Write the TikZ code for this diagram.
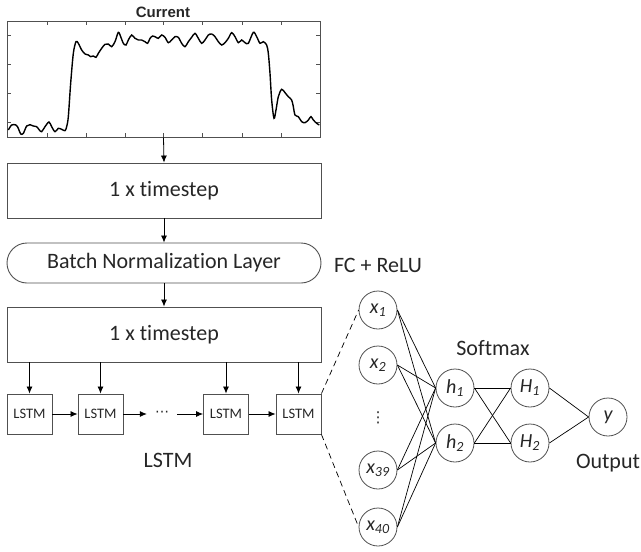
\documentclass[tikz,border=0pt]{standalone}
\usepackage{fontspec}
\setmainfont[Ligatures=NoCommon]{Carlito}
\newfontfamily\arialf{Liberation Sans}
\newfontfamily\djv{DejaVu Sans}
\usetikzlibrary{arrows.meta,shapes.misc}
\definecolor{ln}{HTML}{505050}
\definecolor{tx}{HTML}{262626}
\begin{document}
\begin{tikzpicture}[x=1pt,y=-1pt,
  every node/.style={text=tx},
  box/.style={draw=ln,line width=0.9pt,inner sep=0,minimum width=314,minimum height=55,font=\fontsize{22}{26}\selectfont},
  pill/.style={draw=ln,line width=0.9pt,rounded rectangle,inner sep=0,minimum width=314,minimum height=40,font=\fontsize{22}{26}\selectfont},
  cell/.style={draw=ln,line width=0.9pt,inner sep=0,minimum width=45,minimum height=40,font=\fontsize{14.5}{17}\selectfont},
  neuron/.style={draw=ln,line width=0.8pt,circle,inner sep=0,minimum size=38,font=\fontsize{20}{24}\selectfont\itshape},
  lbl/.style={font=\fontsize{22}{26}\selectfont},
  arr/.style={-{Latex[length=7pt,width=6pt]},line width=0.8pt,black},
  wire/.style={line width=0.7pt,black},
  tick/.style={line width=0.8pt,ln}]
\useasboundingbox (0,0) rectangle (641,552);
% plot
\node[draw=ln,line width=1pt,inner sep=0,minimum width=313,minimum height=116] (chart) at (163.5,79) {};
\node[font=\arialf\bfseries\fontsize{15}{18}\selectfont] (title) at (163,12) {Current};
\foreach \x in {47,86,125,163,202,242,281} {
  \draw[tick] (\x,21) -- (\x,25);
  \draw[tick] (\x,137) -- (\x,133);
}
\foreach \y in {35,64,93,122} {
  \draw[tick] (7,\y) -- (11,\y);
  \draw[tick] (320,\y) -- (316,\y);
}
\begin{scope}[scale=1/3]
\draw[line width=1.4pt,black] plot[smooth,tension=0.5] coordinates {
(25,390)(35,375)(48,375)(55,385)(62,402)(70,400)(80,378)(90,374)(100,378)(110,380)(118,390)(125,395)(135,380)(147,366)(155,380)(165,395)(175,385)(185,388)(195,392)(200,380)(205,350)(212,250)(220,160)(228,125)(235,130)(245,150)(255,162)(265,165)(272,170)(280,168)(288,172)(295,160)(305,145)(315,133)(325,132)(335,140)(345,125)(355,97)(362,110)(370,130)(378,135)(385,120)(395,105)(405,115)(415,120)(425,120)(435,125)(443,130)(450,115)(458,108)(465,110)(475,115)(485,105)(495,112)(505,128)(515,120)(525,110)(535,112)(545,130)(555,140)(565,125)(575,112)(585,100)(595,115)(605,130)(615,120)(625,105)(635,102)(645,110)(655,125)(665,135)(675,128)(685,115)(695,98)(705,110)(715,128)(725,120)(735,128)(745,130)(760,97)(770,110)(780,130)(790,125)(800,135)(805,160)(810,220)(815,300)(822,355)(828,330)(835,290)(845,268)(855,278)(865,290)(875,300)(880,320)(885,345)(895,350)(905,365)(915,368)(925,360)(933,350)(940,360)(950,370)(958,375)};
\end{scope}
% left column
\node[box] (ts1) at (164,190.5) {1 x timestep};
\node[pill] (bn) at (164,263) {Batch Normalization Layer};
\node[box] (ts2) at (164,334.5) {1 x timestep};
\draw[arr] (chart.south) -- (ts1.north);
\draw[arr] (ts1.south) -- (bn.north);
\draw[arr] (bn.south) -- (ts2.north);
\node[cell] (l1) at (29.5,414) {LSTM};
\node[cell] (l2) at (100.5,414) {LSTM};
\node[cell] (l3) at (226,414) {LSTM};
\node[cell] (l4) at (298.5,414) {LSTM};
\node[inner sep=0,minimum width=30,minimum height=8,font=\djv\fontsize{14}{16}\selectfont] (dots) at (162,414) {⋯};
\foreach \n in {l1,l2,l3,l4} \draw[arr] (ts2.south -| \n) -- (\n.north);
\draw[arr] (l1.east) -- (l2.west);
\draw[arr] (l2.east) -- (dots.west);
\draw[arr] (dots.east) -- (l3.west);
\draw[arr] (l3.east) -- (l4.west);
\node[lbl] (lstmlbl) at (168,460) {LSTM};
% network
\node[lbl] (fc) at (378,265) {FC + ReLU};
\node[neuron] (x1) at (378,310) {x\textsubscript{1}};
\node[neuron] (x2) at (378,365) {x\textsubscript{2}};
\node[font=\djv\fontsize{15}{17}\selectfont] (vd) at (378,418) {⋮};
\node[neuron] (x39) at (378,470) {x\textsubscript{39}};
\node[neuron] (x40) at (378,527) {x\textsubscript{40}};
\node[neuron] (h1) at (455,388) {h\textsubscript{1}};
\node[neuron] (h2) at (455,443) {h\textsubscript{2}};
\node[neuron] (H1) at (530,388) {H\textsubscript{1}};
\node[neuron] (H2) at (530,443) {H\textsubscript{2}};
\node[neuron] (y) at (608,417) {y};
\node[lbl] (sm) at (493,348) {Softmax};
\node[lbl] (out) at (608,463) {Output};
\foreach \a in {x1,x2,x39,x40} \foreach \b in {h1,h2} \draw[wire] (\a.east) -- (\b.west);
\foreach \a in {h1,h2} \foreach \b in {H1,H2} \draw[wire] (\a.east) -- (\b.west);
\foreach \a in {H1,H2} \draw[wire] (\a.east) -- (y.west);
\draw[wire,dash pattern=on 6pt off 4pt] (l4.north east) -- (x1.west);
\draw[wire,dash pattern=on 6pt off 4pt] (l4.south east) -- (x40.west);
\end{tikzpicture}
\end{document}
